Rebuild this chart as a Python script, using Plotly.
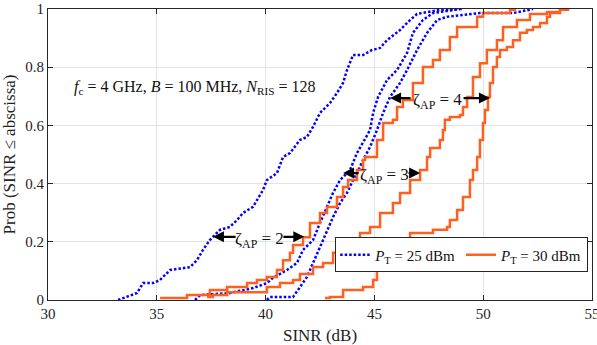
import plotly.graph_objects as go

# ---- data (SINR in dB, CDF probability) ----
b2_x = [33.22, 34.09, 34.37, 34.83, 35.15, 35.61, 36.53, 36.85, 37.12, 37.44, 37.90, 38.36, 38.69, 38.96, 39.42, 39.60, 39.88, 40.06, 40.52, 40.80, 41.12, 41.58, 41.90, 42.18, 42.50, 42.96, 43.28, 43.56, 43.74, 44.02, 44.48, 44.89, 45.26, 45.58, 46.18, 46.64, 46.96, 48.01, 49.03]
b2_y = [0, 0.024, 0.058, 0.058, 0.069, 0.103, 0.113, 0.137, 0.172, 0.206, 0.241, 0.251, 0.275, 0.299, 0.320, 0.344, 0.378, 0.412, 0.436, 0.491, 0.505, 0.550, 0.560, 0.595, 0.643, 0.677, 0.711, 0.746, 0.790, 0.842, 0.842, 0.859, 0.866, 0.893, 0.928, 0.962, 0.983, 0.997, 1.0]

b3_x = [36.76, 36.99, 38.36, 39.42, 40.06, 40.34, 40.98, 41.44, 41.72, 42.18, 42.50, 42.82, 43.10, 43.42, 43.88, 44.20, 44.48, 44.80, 44.94, 45.17, 45.58, 46.04, 46.50, 46.77, 47.23, 47.69, 48.93]
b3_y = [0, 0.017, 0.024, 0.041, 0.058, 0.076, 0.103, 0.127, 0.172, 0.206, 0.265, 0.320, 0.368, 0.412, 0.447, 0.505, 0.540, 0.584, 0.643, 0.698, 0.756, 0.790, 0.849, 0.918, 0.962, 0.986, 1.0]

b4_x = [40.06, 40.20, 41.26, 41.58, 41.90, 42.18, 42.50, 42.82, 43.10, 43.42, 43.74, 44.02, 44.20, 44.48, 44.80, 45.12, 45.40, 45.72, 46.18, 46.50, 46.96, 47.42, 47.88, 48.34, 49.85, 51.37, 52.15, 52.29]
b4_y = [0, 0.010, 0.010, 0.045, 0.079, 0.127, 0.182, 0.241, 0.285, 0.333, 0.368, 0.412, 0.436, 0.481, 0.526, 0.584, 0.643, 0.698, 0.746, 0.790, 0.859, 0.918, 0.962, 0.973, 0.986, 0.986, 0.997, 1.0]

o2_x = [35.15, 36.39, 37.44, 38.23, 39.15, 39.60, 40.06, 40.52, 40.80, 41.12, 41.26, 41.72, 42.04, 42.50, 42.82, 43.28, 43.56, 43.79, 44.20, 44.48, 44.57, 45.12, 45.40, 45.85, 46.04, 46.31, 46.77, 47.23, 47.69, 48.01, 48.47, 48.80, 49.72, 49.99, 51.23, 51.46]
o2_y = [0.007, 0.017, 0.034, 0.045, 0.058, 0.069, 0.079, 0.103, 0.137, 0.162, 0.189, 0.216, 0.265, 0.299, 0.320, 0.354, 0.388, 0.412, 0.447, 0.481, 0.491, 0.550, 0.608, 0.619, 0.663, 0.687, 0.746, 0.801, 0.825, 0.859, 0.904, 0.938, 0.973, 0.986, 0.997, 1.0]

o3_x = [37.31, 37.58, 38.23, 40.06, 40.66, 41.26, 41.58, 42.18, 42.64, 43.10, 43.42, 44.02, 44.34, 44.80, 45.26, 45.85, 46.18, 46.64, 47.10, 47.42, 47.56, 48.01, 48.15, 48.24, 48.47, 48.93, 49.07, 49.26, 49.53, 49.85, 50.17, 50.63, 50.91, 51.55, 52.15, 52.93, 53.53]
o3_y = [0.010, 0.017, 0.027, 0.045, 0.058, 0.069, 0.089, 0.113, 0.127, 0.162, 0.182, 0.206, 0.230, 0.251, 0.299, 0.333, 0.368, 0.412, 0.447, 0.491, 0.522, 0.550, 0.584, 0.619, 0.629, 0.636, 0.663, 0.698, 0.766, 0.814, 0.859, 0.893, 0.938, 0.962, 0.983, 0.990, 1.0]

o4_x = [42.73, 42.96, 43.56, 44.48, 44.94, 45.12, 45.40, 45.72, 46.18, 46.64, 47.69, 48.34, 48.47, 48.80, 49.07, 49.39, 49.53, 49.72, 49.85, 49.99, 50.08, 50.22, 50.31, 50.45, 50.63, 50.77, 51.09, 51.37, 51.69, 52.01, 52.29, 52.61, 52.93, 53.07, 53.53, 53.90]
o4_y = [0.007, 0.010, 0.034, 0.045, 0.069, 0.103, 0.137, 0.162, 0.196, 0.230, 0.241, 0.251, 0.275, 0.309, 0.354, 0.412, 0.447, 0.491, 0.550, 0.608, 0.653, 0.698, 0.746, 0.801, 0.835, 0.859, 0.869, 0.893, 0.918, 0.928, 0.938, 0.952, 0.973, 0.986, 0.997, 1.0]

x_ticks = [30, 35, 40, 45, 50, 55]
y_ticks = [0, 0.2, 0.4, 0.6, 0.8, 1]
y_ticktext = ["0", "0.2", "0.4", "0.6", "0.8", "1"]

# annotation labels: (text, text_x, y, left_tip, left_tail, right_tail, right_tip)
zeta_labels = [
    ("ζ<sub>AP</sub> = 2", 39.72, 0.217, 37.58, 38.69, 40.75, 41.78),
    ("ζ<sub>AP</sub> = 3", 45.46, 0.436, 43.56, 44.34, 46.50, 47.10),
    ("ζ<sub>AP</sub> = 4", 47.90, 0.694, 45.72, 46.73, 49.03, 50.31),
]

BLUE = "#0000FF"
ORANGE = "#FF5F1F"
FONT = "'Liberation Serif', 'Times New Roman', 'DejaVu Serif', serif"
AX = "#262626"

fig = go.Figure()
blue_sets = [(b2_x, b2_y), (b3_x, b3_y), (b4_x, b4_y)]
orange_sets = [(o2_x, o2_y), (o3_x, o3_y), (o4_x, o4_y)]

for i, (xs, ys) in enumerate(blue_sets):
    fig.add_trace(go.Scatter(
        x=xs, y=ys, mode="lines", line=dict(color=BLUE, width=2.5, dash="2.5px,2px"),
        name="<i>P</i><sub>T</sub> = 25 dBm", legendgroup="b", showlegend=(i == 0)))
for i, (xs, ys) in enumerate(orange_sets):
    fig.add_trace(go.Scatter(
        x=xs, y=ys, mode="lines", line=dict(color=ORANGE, width=2.5, shape="hv"),
        name="<i>P</i><sub>T</sub> = 30 dBm", legendgroup="o", showlegend=(i == 0)))

annotations = [dict(
    x=31.10, y=0.73, xref="x", yref="y", xanchor="left", yanchor="middle",
    text="<i>f</i><sub>c</sub> = 4 GHz, <i>B</i> = 100 MHz, <i>N</i><sub>RIS</sub> = 128",
    showarrow=False, font=dict(family=FONT, size=16, color="#111"))]

for txt, tx, ty, ltip, ltail, rtail, rtip in zeta_labels:
    annotations.append(dict(x=tx, y=ty, xref="x", yref="y", text=txt, showarrow=False,
                            xanchor="center", yanchor="middle", yshift=-3,
                            font=dict(family=FONT, size=17, color="#111")))
    for tip, tail in ((ltip, ltail), (rtip, rtail)):
        annotations.append(dict(x=tip, y=ty, ax=tail, ay=ty, xref="x", yref="y",
                                axref="x", ayref="y", text="", showarrow=True,
                                arrowhead=2, arrowsize=1, arrowwidth=2.2,
                                arrowcolor="black", standoff=0, startstandoff=0))

axis_common = dict(showline=True, linecolor=AX, linewidth=1, mirror="allticks",
                   ticks="inside", ticklen=5, tickcolor=AX, showgrid=True,
                   gridcolor="#E3E3E3", gridwidth=1, zeroline=False, automargin=False,
                   ticklabeloverflow="allow",
                   tickfont=dict(family=FONT, size=15, color="#222"))

fig.update_layout(
    width=597, height=345,
    margin=dict(l=48, r=5, t=9, b=45),
    paper_bgcolor="white", plot_bgcolor="white",
    font=dict(family=FONT, size=15, color="#222"),
    xaxis=dict(range=[30, 55], tickvals=x_ticks,
               title=dict(text="SINR (dB)", font=dict(family=FONT, size=17)),
               **axis_common),
    yaxis=dict(range=[0, 1], tickvals=y_ticks, ticktext=y_ticktext,
               title=dict(text="Prob (SINR ≤ abscissa)", font=dict(family=FONT, size=17)),
               **axis_common),
    legend=dict(orientation="h", x=0.993, xanchor="right", y=0.215, yanchor="top",
                bgcolor="white", bordercolor=AX, borderwidth=1,
                font=dict(family=FONT, size=15, color="#111"), itemwidth=30,
                tracegroupgap=0),
    annotations=annotations,
    showlegend=True,
)

# remove the browser's default 8px body margin so the figure fills the window
fig.write_html("out.html", config={"displayModeBar": False},
               post_script="document.body.style.margin='0';")
